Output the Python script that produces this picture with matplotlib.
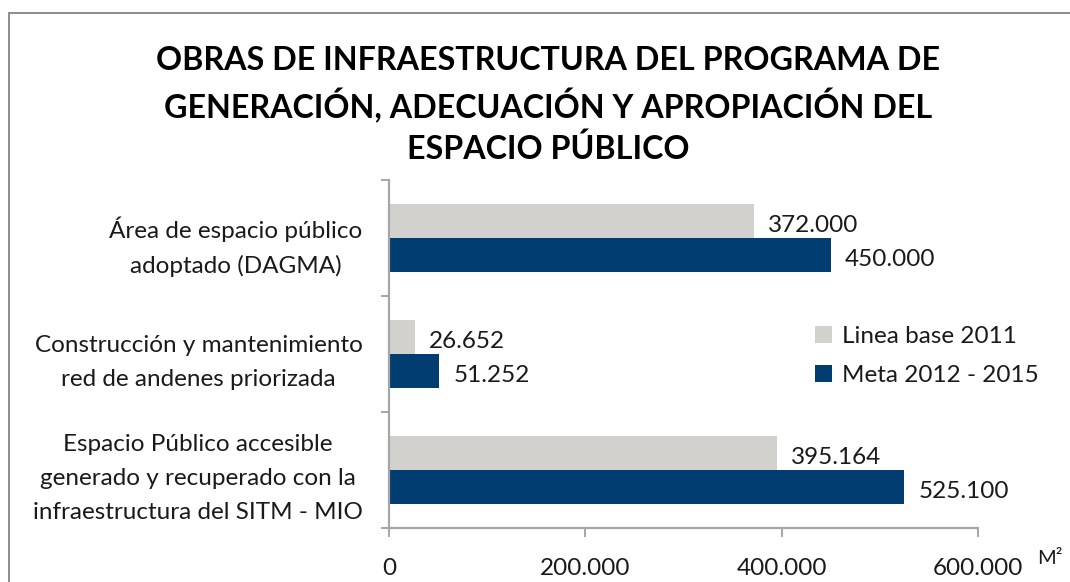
import matplotlib
matplotlib.use("Agg")
import matplotlib.pyplot as plt
from matplotlib.patches import Rectangle, Patch
from matplotlib.ticker import FixedLocator, FuncFormatter

# ---- data ----
categories = [
    "Área de espacio público\nadoptado (DAGMA)",
    "Construcción y mantenimiento\nred de andenes priorizada",
    "Espacio Público accesible\ngenerado y recuperado con la\ninfraestructura del SITM - MIO",
]
series_names = ["Linea base 2011", "Meta 2012 - 2015"]
linea_base = [372000, 26652, 395164]
meta = [450000, 51252, 525100]
x_ticks = [0, 200000, 400000, 600000]
title = ("OBRAS DE INFRAESTRUCTURA DEL PROGRAMA DE\n"
         "GENERACIÓN, ADECUACIÓN Y APROPIACIÓN DEL\n"
         "ESPACIO PÚBLICO")
unit_label = "M²"

# ---- style ----
FONT = ["Lato", "DejaVu Sans"]
plt.rcParams["font.family"] = FONT
GRAY = "#D3D1CE"
BLUE = "#023D72"
AXIS = "#A6A6A6"
TXT = "#1a1a1a"
W, H = 1070, 582
FS = 17.5

fig = plt.figure(figsize=(W / 100, H / 100), dpi=100)
fig.patch.set_facecolor("white")

# outer chart frame (extends past right / bottom edge like the reference crop)
fig.add_artist(Rectangle((9 / W, -0.05), 1.2, (H - 13) / H + 0.05,
                         transform=fig.transFigure, fill=False,
                         edgecolor="#8C8C8C", linewidth=1.4))

ax = fig.add_axes([389 / W, 1 - 528 / H, (978 - 389) / W, 348 / H])

n = len(categories)
ypos = list(range(n))
bh = 34 / 116
ax.barh([y - bh / 2 for y in ypos], linea_base, height=bh, color=GRAY,
        label=series_names[0])
ax.barh([y + bh / 2 for y in ypos], meta, height=bh, color=BLUE,
        label=series_names[1])

ax.set_ylim(n - 0.5, -0.5)
ax.set_xlim(0, 600000)

# category ticks: boundaries get tick marks, centers get labels
ax.yaxis.set_major_locator(FixedLocator([i - 0.5 for i in range(n + 1)]))
ax.yaxis.set_major_formatter(FuncFormatter(lambda v, p: ""))
ax.yaxis.set_minor_locator(FixedLocator(ypos))
ax.set_yticklabels(categories, minor=True)
ax.tick_params(axis="y", which="major", length=6, width=1.4, color=AXIS,
               direction="out")
ax.tick_params(axis="y", which="minor", length=0, pad=19, labelsize=FS,
               labelcolor=TXT)
for t in ax.get_yticklabels(minor=True):
    t.set_multialignment("center")
    t.set_linespacing(1.75)

ax.xaxis.set_major_locator(FixedLocator(x_ticks))
ax.xaxis.set_major_formatter(
    FuncFormatter(lambda v, p: f"{v:,.0f}".replace(",", ".")))
ax.tick_params(axis="x", length=6.5, width=1.4, color=AXIS, direction="out",
               pad=15, labelsize=FS, labelcolor=TXT)

for s in ["top", "right"]:
    ax.spines[s].set_visible(False)
for s in ["left", "bottom"]:
    ax.spines[s].set_color(AXIS)
    ax.spines[s].set_linewidth(1.6)

# data labels
for y, v in zip(ypos, linea_base):
    ax.annotate(f"{v:,.0f}".replace(",", "."), (v, y - bh / 2),
                xytext=(10, -3), textcoords="offset points",
                va="center", ha="left", fontsize=FS, color=TXT)
for y, v in zip(ypos, meta):
    ax.annotate(f"{v:,.0f}".replace(",", "."), (v, y + bh / 2),
                xytext=(10, -3), textcoords="offset points",
                va="center", ha="left", fontsize=FS, color=TXT)

# legend
handles = [Patch(facecolor=GRAY), Patch(facecolor=BLUE)]
fig.legend(handles, series_names, loc="center left",
           bbox_to_anchor=(815 / W, 1 - 356 / H), frameon=False,
           fontsize=FS, handlelength=0.7, handleheight=0.7,
           handletextpad=0.4, labelspacing=0.75, borderpad=0,
           borderaxespad=0, labelcolor=TXT)

# unit label
fig.text(1037 / W, 1 - 558 / H, unit_label, fontsize=14.5, ha="left",
         va="center", color=TXT)

# title
fig.text(548 / W, 1 - 46 / H, title, ha="center", va="top", fontsize=23.2,
         fontweight="bold", linespacing=1.42, color="black")

fig.savefig("out.png", dpi=100)
